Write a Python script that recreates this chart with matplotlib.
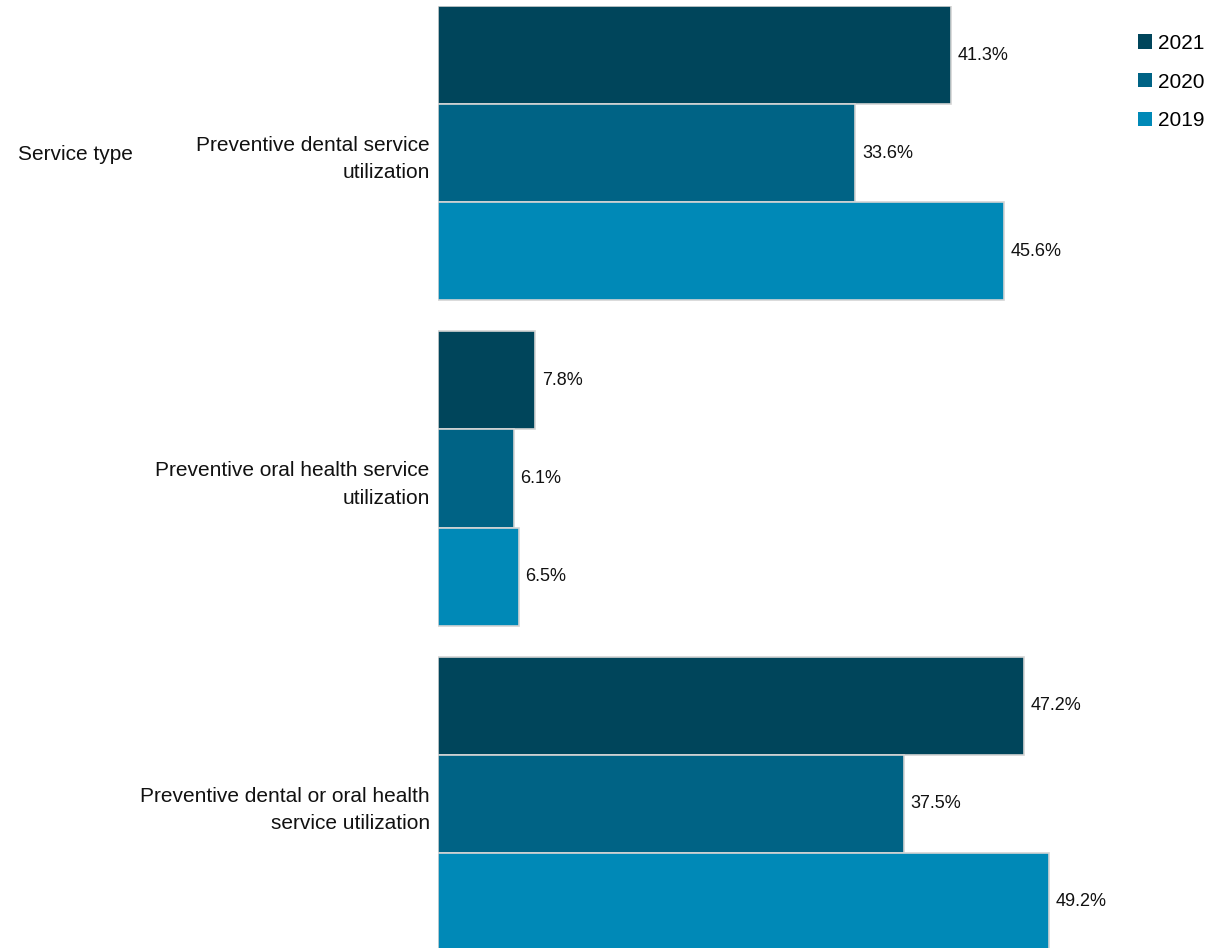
import numpy as np
import matplotlib
matplotlib.use("Agg")
import matplotlib.pyplot as plt
from matplotlib.patches import Patch
from matplotlib import font_manager

categories = [
    "Preventive dental service\nutilization",
    "Preventive oral health service\nutilization",
    "Preventive dental or oral health\nservice utilization",
]
years = ["2021", "2020", "2019"]
values_2021 = [41.3, 7.8, 47.2]
values_2020 = [33.6, 6.1, 37.5]
values_2019 = [45.6, 6.5, 49.2]
colors = ["#00455B", "#006385", "#0089B7"]

# pick a condensed Arial-like face if it's there
names = {f.name for f in font_manager.fontManager.ttflist}
family = "Liberation Sans Narrow" if "Liberation Sans Narrow" in names else "Liberation Sans"
plt.rcParams["font.family"] = [family, "DejaVu Sans"]

GROUP_STEP = 3.316
W, H = 1216, 948

fig = plt.figure(figsize=(W / 100, H / 100), dpi=100)
ax = fig.add_axes([438 / W, -3 / H, (1121 - 438) / W, 945 / H])

series = [values_2021, values_2020, values_2019]
group_pos = np.arange(len(categories)) * GROUP_STEP
for k, (year, vals, c) in enumerate(zip(years, series, colors)):
    ys = group_pos + k
    ax.barh(ys, vals, height=1.0, color=c, edgecolor="#d4d4d4",
            linewidth=1.2, label=year)
    for y, v in zip(ys, vals):
        ax.text(v + 0.55, y, f"{v:.1f}%", va="center", ha="left",
                fontsize=13, color="#111111")

ax.set_xlim(0, 55)
ax.set_ylim(group_pos[-1] + 2.5, -0.5)
ax.set_yticks(group_pos + 1)
ax.set_yticklabels(categories, ha="right", fontsize=15, color="#111111",
                   linespacing=1.55)
ax.tick_params(axis="y", length=0, pad=6)
ax.set_xticks([])
for s in ax.spines.values():
    s.set_visible(False)

fig.text(18 / W, 1 - 155 / H, "Service type", va="center", ha="left",
         fontsize=15, color="#111111")

handles = [Patch(facecolor=c, edgecolor="none") for c in colors]
fig.legend(handles, years, loc="upper left",
           bbox_to_anchor=(1119 / W, 1 - 15 / H), frameon=False,
           fontsize=15, handlelength=0.68, handleheight=0.68,
           handletextpad=0.3, labelspacing=0.95)

fig.savefig("out.png", dpi=100)
